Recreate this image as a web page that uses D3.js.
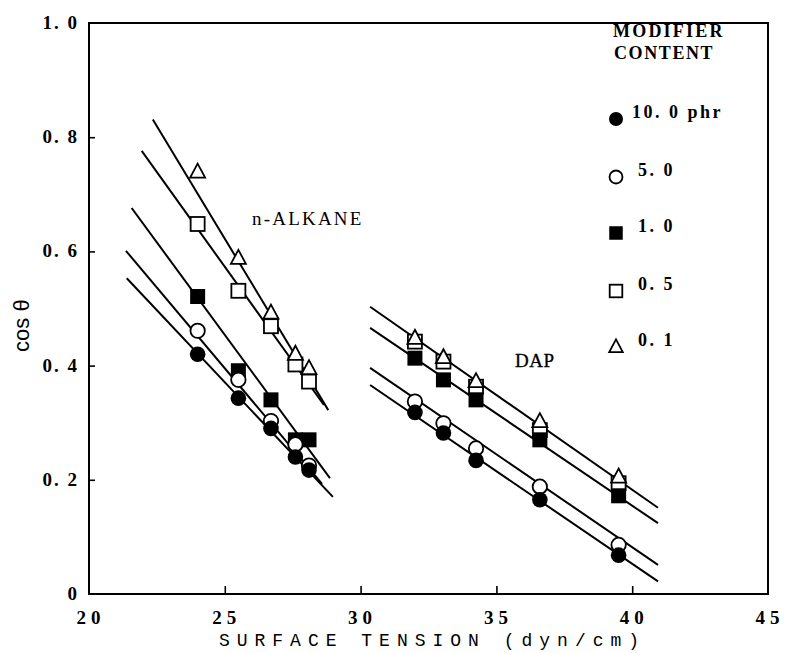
<!DOCTYPE html>
<html><head><meta charset="utf-8">
<script src="https://cdn.jsdelivr.net/npm/d3@7"></script>
<style>body{margin:0;background:#fff}</style>
</head><body><svg id="c" width="787" height="653"></svg>
<script>
// ---- data ----
const xTicks = [20, 25, 30, 35, 40, 45];
const yTicks = [0, 0.2, 0.4, 0.6, 0.8, 1.0];
const yTickLabels = ["0", "0. 2", "0. 4", "0. 6", "0. 8", "1. 0"];
const xTickLabels = ["20", "25", "30", "35", "40", "45"];
const seriesNames = ["10. 0  phr", "5. 0", "1. 0", "0. 5", "0. 1"];
const seriesKeys = ["fc", "oc", "fs", "os", "tr"];

// n-alkane
const alkaneX = [24.0, 25.5, 26.7, 27.6, 28.1];
const alkFilledCircle = [0.420, 0.343, 0.290, 0.240, 0.217];
const alkOpenCircle   = [0.461, 0.375, 0.303, 0.262, 0.225];
const alkFilledSquare = [0.521, 0.391, 0.340, 0.270, 0.270];
const alkOpenSquare   = [0.648, 0.531, 0.469, 0.402, 0.372];
const alkTriangle     = [0.739, 0.588, 0.492, 0.420, 0.395];
// DAP
const dapX = [32.0, 33.05, 34.25, 36.6, 39.5];
const dapFilledCircle = [0.318, 0.282, 0.234, 0.165, 0.068];
const dapOpenCircle   = [0.337, 0.299, 0.255, 0.188, 0.086];
const dapFilledSquare = [0.413, 0.375, 0.340, 0.270, 0.172];
const dapOpenSquare   = [0.442, 0.407, 0.363, 0.287, 0.194];
const dapTriangle     = [0.448, 0.414, 0.372, 0.302, 0.205];

// fitted lines [x0, y0, x1, y1]
const alkaneLines = [
  [22.35, 0.831, 28.81, 0.322],
  [21.94, 0.776, 28.65, 0.331],
  [21.57, 0.676, 28.87, 0.203],
  [21.36, 0.601, 28.58, 0.193],
  [21.39, 0.553, 28.98, 0.170]
];
const dapLines = [
  [30.35, 0.503, 40.95, 0.151],
  [30.35, 0.466, 40.95, 0.124],
  [30.35, 0.396, 40.95, 0.051],
  [30.35, 0.366, 40.95, 0.022]
];

// ---- chart ----
const svg = d3.select("#c");
const L = 89, R = 768, T = 23, B = 594;
const x = d3.scaleLinear().domain([20, 45]).range([L, R]);
const y = d3.scaleLinear().domain([0, 1]).range([B, T]);
const serif = "'Liberation Serif', serif";

// frame
svg.append("rect").attr("x", L).attr("y", T).attr("width", R - L).attr("height", B - T)
  .attr("fill", "none").attr("stroke", "#000").attr("stroke-width", 2);

// axes with inward ticks
const xAxis = d3.axisBottom(x).tickValues(xTicks.slice(1, -1)).tickSize(-8).tickFormat("");
svg.append("g").attr("transform", `translate(0,${B})`).call(xAxis)
  .call(g => { g.select(".domain").remove(); g.selectAll("line").attr("stroke-width", 1.6); });
const yAxis = d3.axisLeft(y).tickValues(yTicks.slice(1, -1)).tickSize(-6).tickFormat("");
svg.append("g").attr("transform", `translate(${L},0)`).call(yAxis)
  .call(g => { g.select(".domain").remove(); g.selectAll("line").attr("stroke-width", 1.6); });

// tick labels
svg.append("g").selectAll("text").data(yTicks).join("text")
  .attr("x", 79).attr("y", d => y(d) + 6)
  .attr("text-anchor", "end")
  .attr("font-family", serif).attr("font-weight", "bold").attr("font-size", 19)
  .attr("letter-spacing", 2)
  .text((d, i) => yTickLabels[i]);
svg.append("g").selectAll("text").data(xTicks).join("text")
  .attr("x", d => x(d) + 2).attr("y", 624)
  .attr("text-anchor", "middle")
  .attr("font-family", serif).attr("font-weight", "bold").attr("font-size", 19)
  .attr("letter-spacing", 5)
  .text((d, i) => xTickLabels[i]);

// axis titles
svg.append("text").attr("x", x(32.5) + 4).attr("y", 646).attr("text-anchor", "middle")
  .attr("font-family", "'Liberation Mono', monospace").attr("font-size", 18)
  .attr("letter-spacing", 7)
  .text("SURFACE TENSION (dyn/cm)");
svg.append("text").attr("transform", `translate(29,${y(0.47)}) rotate(-90)`)
  .attr("text-anchor", "middle")
  .attr("font-family", "'Liberation Sans', sans-serif").attr("font-size", 22)
  .text("cos θ");

// fit lines
const allLines = alkaneLines.concat(dapLines);
svg.append("g").selectAll("line").data(allLines).join("line")
  .attr("x1", d => x(d[0])).attr("y1", d => y(d[1]))
  .attr("x2", d => x(d[2])).attr("y2", d => y(d[3]))
  .attr("stroke", "#000").attr("stroke-width", 2);

// markers
function marker(g, key, cx, cy, s) {
  s = s || 1;
  if (key === "fc") g.append("circle").attr("cx", cx).attr("cy", cy).attr("r", 7.8 * s).attr("fill", "#000");
  if (key === "oc") g.append("circle").attr("cx", cx).attr("cy", cy).attr("r", 7.2 * s).attr("fill", "#fff").attr("stroke", "#000").attr("stroke-width", 1.8);
  if (key === "fs") g.append("rect").attr("x", cx - 7.5 * s).attr("y", cy - 7.5 * s).attr("width", 15 * s).attr("height", 15 * s).attr("fill", "#000");
  if (key === "os") g.append("rect").attr("x", cx - 7 * s).attr("y", cy - 7 * s).attr("width", 14 * s).attr("height", 14 * s).attr("fill", "#fff").attr("stroke", "#000").attr("stroke-width", 1.8);
  if (key === "tr") {
    const h = 14 * s, w = 15 * s;
    g.append("path").attr("d", `M${cx},${cy - h * 0.6}L${cx + w / 2},${cy + h * 0.4}L${cx - w / 2},${cy + h * 0.4}Z`)
      .attr("fill", "#fff").attr("stroke", "#000").attr("stroke-width", 1.8).attr("stroke-linejoin", "miter");
  }
}
const drawOrder = [
  ["os", alkOpenSquare, dapOpenSquare],
  ["tr", alkTriangle, dapTriangle],
  ["fs", alkFilledSquare, dapFilledSquare],
  ["oc", alkOpenCircle, dapOpenCircle],
  ["fc", alkFilledCircle, dapFilledCircle]
];
const mg = svg.append("g");
drawOrder.forEach(([key, a, d]) => {
  a.forEach((v, i) => marker(mg, key, x(alkaneX[i]), y(v)));
  d.forEach((v, i) => marker(mg, key, x(dapX[i]), y(v)));
});

// annotations
svg.append("text").attr("x", 252).attr("y", 225)
  .attr("font-family", serif).attr("font-size", 19).attr("letter-spacing", 2.2)
  .text("n-ALKANE");
svg.append("text").attr("x", 515).attr("y", 367)
  .attr("font-family", serif).attr("font-size", 19).attr("letter-spacing", 0.5)
  .attr("stroke", "#000").attr("stroke-width", 0.3)
  .text("DAP");

// legend
const lg = svg.append("g");
lg.append("text").attr("x", 613).attr("y", 37).attr("font-family", serif).attr("font-weight", "bold")
  .attr("font-size", 18).attr("letter-spacing", 2.2).text("MODIFIER");
lg.append("text").attr("x", 614).attr("y", 59).attr("font-family", serif).attr("font-weight", "bold")
  .attr("font-size", 18).attr("letter-spacing", 1.6).text("CONTENT");
const legY = [119, 177, 233, 291, 347];
seriesKeys.forEach((k, i) => {
  marker(lg, k, 616, legY[i], 0.9);
  lg.append("text").attr("x", i === 0 ? 632 : 638).attr("y", legY[i] - 1)
    .attr("font-family", serif).attr("font-weight", "bold").attr("font-size", 18)
    .attr("letter-spacing", 2.5).text(seriesNames[i]);
});
</script>
</body></html>
